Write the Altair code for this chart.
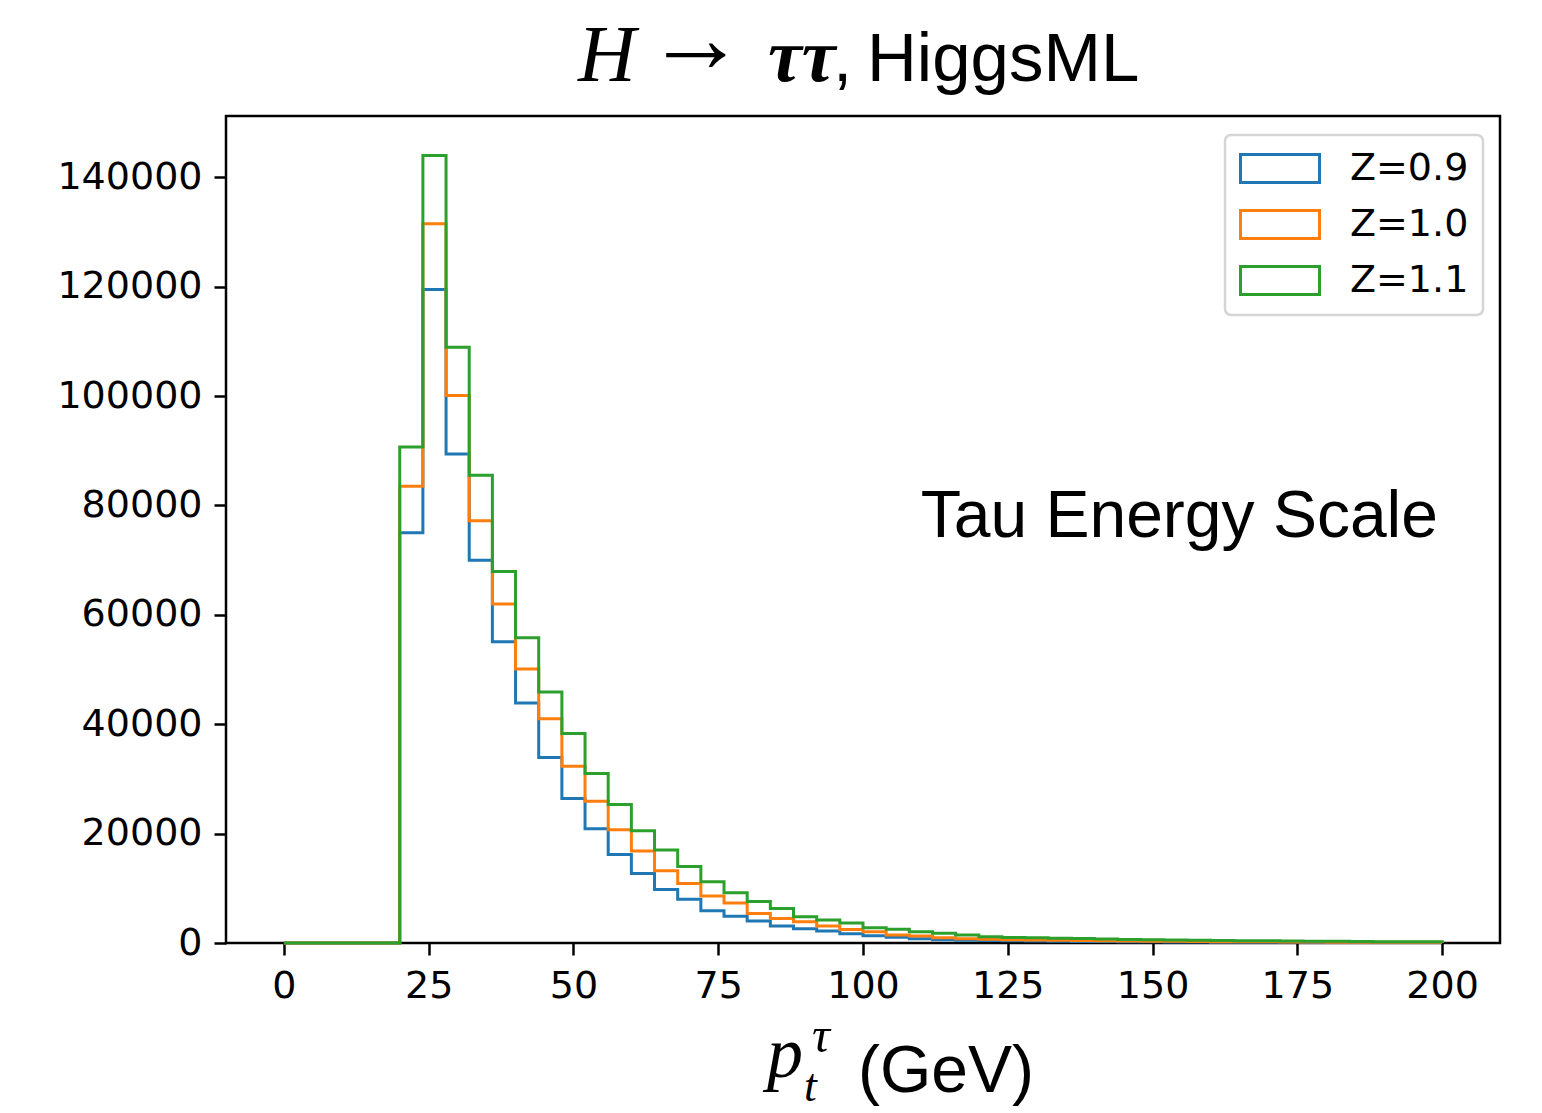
import altair as alt
import pandas as pd

# ---- data ----
bin_edges = list(range(0, 204, 4))  # 0,4,...,200
series_names = ["Z=0.9", "Z=1.0", "Z=1.1"]
series_colors = ["#1f77b4", "#ff7f0e", "#2ca02c"]

counts_z09 = [0, 0, 0, 0, 0,
              75000, 119500, 89400, 70000, 55100, 43900, 33900, 26400, 20900, 16200,
              12700, 9800, 8000, 5900, 4900, 4000, 3100, 2600, 2200, 1700,
              1340, 1040, 780, 600, 520, 450, 400, 360, 320, 290,
              260, 235, 210, 190, 175, 160, 145, 130, 120, 110,
              100, 92, 85, 78, 72]
counts_z10 = [0, 0, 0, 0, 0,
              83500, 131500, 100100, 77200, 62000, 50100, 41000, 32300, 25900, 20700,
              16800, 13200, 10900, 8600, 7300, 5400, 4500, 3900, 3100, 2450,
              2070, 1460, 1280, 970, 790, 700, 600, 560, 500, 450,
              400, 360, 330, 300, 270, 250, 230, 210, 190, 175,
              160, 145, 135, 125, 115]
counts_z11 = [0, 0, 0, 0, 0,
              90700, 144000, 108900, 85500, 67900, 55800, 45900, 38300, 31000, 25300,
              20500, 17000, 14000, 11200, 9200, 7600, 6300, 4800, 4200, 3650,
              2800, 2500, 2070, 1770, 1460, 1150, 1000, 950, 870, 800,
              720, 650, 600, 550, 500, 460, 420, 390, 350, 320,
              300, 270, 250, 230, 210]

x_ticks = [0, 25, 50, 75, 100, 125, 150, 175, 200]
y_ticks = [0, 20000, 40000, 60000, 80000, 100000, 120000, 140000]

title_H = ["H"]
title_arrow = ["→"]
title_tau = ["ττ"]
title_comma = [","]
title_name = ["HiggsML"]
xlabel_p = ["p"]
xlabel_sup = ["τ"]
xlabel_sub = ["t"]
xlabel_unit = ["(GeV)"]
annotation = ["Tau Energy Scale"]

# ---- build step outlines ----
rows = []
for name, vals in zip(series_names, [counts_z09, counts_z10, counts_z11]):
    k = 0
    for i, v in enumerate(vals):
        rows.append({"series": name, "x": bin_edges[i], "y": v, "k": k})
        k += 1
    rows.append({"series": name, "x": bin_edges[-1], "y": vals[-1], "k": k})
    rows.append({"series": name, "x": bin_edges[-1], "y": 0, "k": k + 1})
df = pd.DataFrame(rows)

hist = alt.Chart(df).mark_line(interpolate="step-after", strokeWidth=3).encode(
    x=alt.X("x:Q", scale=alt.Scale(domain=[-10, 210], nice=False, zero=False),
            axis=alt.Axis(values=x_ticks, title=None, labelPadding=12)),
    y=alt.Y("y:Q", scale=alt.Scale(domain=[0, 151200], nice=False),
            axis=alt.Axis(values=y_ticks, title=None, labelPadding=12, format="d")),
    color=alt.Color("series:N",
                    scale=alt.Scale(domain=series_names, range=series_colors),
                    legend=alt.Legend(title=None, orient="none", legendX=999, legendY=19,
                                      symbolType="M-1,-0.78L3.39,-0.78L3.39,0.78L-1,0.78Z",
                                      symbolSize=1296, symbolStrokeWidth=3,
                                      symbolFillColor="transparent",
                                      labelFont="DejaVu Sans", labelFontSize=38,
                                      labelColor="black", labelOffset=72,
                                      rowPadding=15, padding=14,
                                      strokeColor="#d5d5d5", cornerRadius=6,
                                      fillColor="white")),
    order="k:Q",
)


def txt(values, x, y, font, size, align="left", style="normal", weight="normal"):
    return alt.Chart(pd.DataFrame({"t": values})).mark_text(
        font=font, fontSize=size, align=align, baseline="alphabetic",
        fontStyle=style, fontWeight=weight, color="black"
    ).encode(text="t:N", x=alt.value(x), y=alt.value(y))


layers = [
    hist,
    txt(title_H, 352, -35, "Liberation Serif", 80, style="italic"),
    txt(title_arrow, 420, -44, "Liberation Serif", 100),
    txt(title_tau, 542, -35, "Liberation Serif", 76, style="italic", weight="bold"),
    txt(title_comma, 607, -35, "Liberation Sans", 69),
    txt(title_name, 641, -35, "Liberation Sans", 69),
    txt(xlabel_p, 541, 961, "Liberation Serif", 72, style="italic"),
    txt(xlabel_sup, 586, 936, "Liberation Serif", 50, style="italic"),
    txt(xlabel_sub, 578, 985, "Liberation Serif", 46, style="italic"),
    txt(xlabel_unit, 632, 976, "Liberation Sans", 66),
    txt(annotation, 1212, 421, "Liberation Sans", 66, align="right"),
]

chart = alt.layer(*layers).properties(
    width=1274, height=827,
    autosize=alt.AutoSizeParams(type="none"),
    padding={"left": 218, "top": 108, "right": 34, "bottom": 170},
).configure_view(
    stroke="black", strokeWidth=2.5
).configure_axis(
    domain=False, grid=False, tickColor="black", tickWidth=2.5, tickSize=12,
    labelFont="DejaVu Sans", labelFontSize=38, labelColor="black"
).configure_legend(
    strokeWidth=2.5
)

chart.save("out.html", embed_options={"renderer": "svg", "actions": False})
